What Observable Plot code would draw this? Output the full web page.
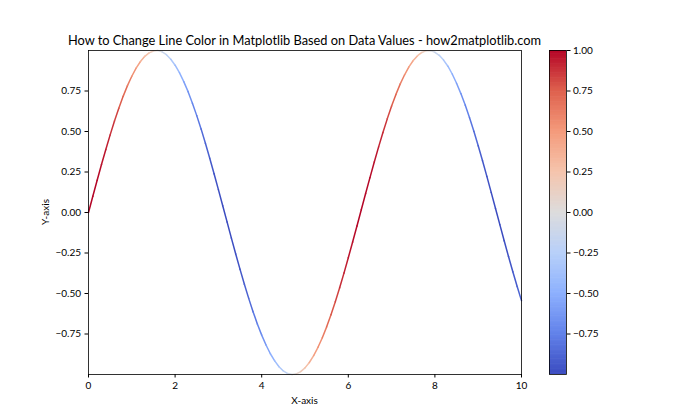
<!DOCTYPE html>
<html><head><meta charset="utf-8">
<script src="https://cdn.jsdelivr.net/npm/d3@7"></script>
<script src="https://cdn.jsdelivr.net/npm/@observablehq/plot@0.6"></script>
<style>
body{margin:0;background:#fff}
#wrap{position:relative;width:700px;height:420px;background:#fff}
#wrap svg{position:absolute;left:0;top:0}
</style>
</head><body><div id="wrap"></div>
<script>
const xValues = [0.0,0.1,0.2,0.3,0.4,0.5,0.6,0.7,0.8,0.9,1.0,1.1,1.2,1.3,1.4,1.5,1.6,1.7,1.8,1.9,2.0,2.1,2.2,2.3,2.4,2.5,2.6,2.7,2.8,2.9,3.0,3.1,3.2,3.3,3.4,3.5,3.6,3.7,3.8,3.9,4.0,4.1,4.2,4.3,4.4,4.5,4.6,4.7,4.8,4.9,5.0,5.1,5.2,5.3,5.4,5.5,5.6,5.7,5.8,5.9,6.0,6.1,6.2,6.3,6.4,6.5,6.6,6.7,6.8,6.9,7.0,7.1,7.2,7.3,7.4,7.5,7.6,7.7,7.8,7.9,8.0,8.1,8.2,8.3,8.4,8.5,8.6,8.7,8.8,8.9,9.0,9.1,9.2,9.3,9.4,9.5,9.6,9.7,9.8,9.9,10.0];
const yValues = [0.000,0.100,0.199,0.296,0.389,0.479,0.565,0.644,0.717,0.783,0.841,0.891,0.932,0.964,0.985,0.997,1.000,0.992,0.974,0.946,0.909,0.863,0.808,0.746,0.675,0.598,0.516,0.427,0.335,0.239,0.141,0.042,-0.058,-0.158,-0.256,-0.351,-0.443,-0.530,-0.612,-0.688,-0.757,-0.818,-0.872,-0.916,-0.952,-0.978,-0.994,-1.000,-0.996,-0.982,-0.959,-0.926,-0.883,-0.832,-0.773,-0.706,-0.631,-0.551,-0.465,-0.374,-0.279,-0.182,-0.083,0.017,0.117,0.215,0.312,0.405,0.494,0.578,0.657,0.729,0.794,0.850,0.899,0.938,0.968,0.988,0.999,0.999,0.989,0.970,0.941,0.903,0.855,0.798,0.734,0.663,0.585,0.501,0.412,0.319,0.223,0.124,0.025,-0.075,-0.174,-0.272,-0.366,-0.457,-0.544];
const colorValues = [1.00,1.00,0.98,0.96,0.92,0.88,0.83,0.76,0.70,0.62,0.54,0.45,0.36,0.27,0.17,0.07,-0.03,-0.13,-0.23,-0.32,-0.42,-0.50,-0.59,-0.67,-0.74,-0.80,-0.86,-0.90,-0.94,-0.97,-0.99,-1.00,-1.00,-0.99,-0.97,-0.94,-0.90,-0.85,-0.79,-0.73,-0.65,-0.57,-0.49,-0.40,-0.31,-0.21,-0.11,-0.01,0.09,0.19,0.28,0.38,0.47,0.55,0.63,0.71,0.78,0.83,0.89,0.93,0.96,0.98,1.00,1.00,0.99,0.98,0.95,0.91,0.87,0.81,0.75,0.68,0.61,0.53,0.44,0.35,0.25,0.15,0.05,-0.05,-0.15,-0.24,-0.34,-0.43,-0.52,-0.60,-0.68,-0.75,-0.81,-0.86,-0.91,-0.95,-0.97,-0.99,-1.00,-1.00,-0.98,-0.96,-0.93,-0.89,-0.84];
const xTicks = [0, 2, 4, 6, 8, 10];
const yTicks = [-0.75, -0.5, -0.25, 0, 0.25, 0.5, 0.75];
const colorbarTicks = [-0.75, -0.5, -0.25, 0, 0.25, 0.5, 0.75, 1.0];
const coolwarm = ["#3b4cc0","#6282ea","#8db0fe","#b8d0f9","#dddcdc","#f5c4ac","#f49a7b","#de604d","#b40426"];
const titleText = "How to Change Line Color in Matplotlib Based on Data Values - how2matplotlib.com";
const xLabel = "X-axis";
const yLabel = "Y-axis";

const FONT = "Lato, 'DejaVu Sans', sans-serif";
const colorDomain = coolwarm.map((_, i) => -1 + 2 * i / (coolwarm.length - 1));
const colorScale = {type: "linear", domain: colorDomain, range: coolwarm, clamp: true};

const segs = xValues.slice(0, -1).map((x, i) => ({
  x1: x, y1: yValues[i], x2: xValues[i + 1], y2: yValues[i + 1], c: colorValues[i]
}));

const main = Plot.plot({
  width: 700, height: 420,
  marginLeft: 88, marginRight: 179, marginTop: 50, marginBottom: 46,
  x: {domain: [0, 10], ticks: xTicks, tickFormat: d3.format("d"), tickSize: 3.5, tickPadding: 4, label: null},
  y: {domain: [-1, 1], ticks: yTicks, tickFormat: d3.format(".2f"), tickSize: 3.5, tickPadding: 4, label: null},
  color: colorScale,
  style: {fontFamily: FONT, fontSize: "10px", color: "black", background: "white", overflow: "visible"},
  marks: [
    Plot.link(segs, {x1: "x1", y1: "y1", x2: "x2", y2: "y2", stroke: "c", strokeWidth: 1.5, strokeLinecap: "round"}),
    Plot.frame({stroke: "black", strokeWidth: 0.8})
  ]
});

const nb = 256;
const bands = d3.range(nb).map(i => ({
  y1: -1 + 2 * i / nb,
  y2: Math.min(1, -1 + 2 * (i + 1) / nb + 0.004),
  v: -1 + 2 * (i + 0.5) / nb
}));

const cbar = Plot.plot({
  width: 700, height: 420,
  marginLeft: 549, marginRight: 134, marginTop: 50, marginBottom: 46,
  x: {domain: [0, 1], axis: null},
  y: {domain: [-1, 1], axis: "right", ticks: colorbarTicks, tickFormat: d3.format(".2f"), tickSize: 3.5, tickPadding: 3, label: null},
  color: colorScale,
  style: {fontFamily: FONT, fontSize: "10px", color: "black", background: "transparent", overflow: "visible"},
  marks: [
    Plot.rect(bands, {x1: () => 0, x2: () => 1, y1: "y1", y2: "y2", fill: "v", inset: 0}),
    Plot.frame({stroke: "black", strokeWidth: 0.8})
  ]
});

const wrap = document.getElementById("wrap");
wrap.appendChild(main);
wrap.appendChild(cbar);

const svg = d3.select(main);
svg.append("text").attr("x", 304.5).attr("y", 45).attr("text-anchor", "middle")
  .attr("font-size", 12.8).attr("font-family", FONT).attr("fill", "black").text(titleText);
svg.append("text").attr("x", 304.5).attr("y", 404).attr("text-anchor", "middle")
  .attr("font-size", 10).attr("font-family", FONT).attr("fill", "black").text(xLabel);
svg.append("text").attr("transform", "translate(49,212) rotate(-90)").attr("text-anchor", "middle")
  .attr("font-size", 10).attr("font-family", FONT).attr("fill", "black").text(yLabel);
</script>
</body></html>
